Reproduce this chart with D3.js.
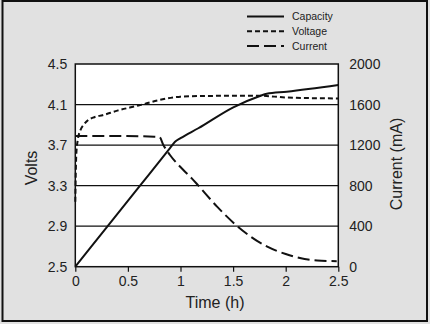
<!DOCTYPE html>
<html>
<head>
<meta charset="utf-8">
<script src="https://cdn.jsdelivr.net/npm/d3@7"></script>
<style>
  html, body { margin: 0; padding: 0; background: #e1e1e1; }
  svg { display: block; font-family: "Liberation Sans", Arial, sans-serif; }
</style>
</head>
<body>
<svg id="chart" width="430" height="324"></svg>
<script>
// Charge profile: time in hours
const capTime = [0, 0.3, 0.6, 0.9, 0.948, 1.0, 1.169, 1.502, 1.755, 1.82, 2.01, 2.5];
const capMah  = [0, 390, 780, 1170, 1233, 1268, 1366, 1573, 1684, 1707, 1727, 1793];

const voltTime = [0, 0.004, 0.01, 0.025, 0.05, 0.08, 0.12, 0.18, 0.26, 0.4, 0.6, 0.8, 1.0, 1.25, 1.75, 2.0, 2.5];
const voltVal  = [3.14, 3.4, 3.62, 3.76, 3.85, 3.9, 3.945, 3.975, 3.995, 4.04, 4.09, 4.145, 4.178, 4.185, 4.187, 4.17, 4.16];

const curTime = [0, 0.4, 0.75, 0.8, 0.837, 0.9, 1.027, 1.107, 1.17, 1.35, 1.54, 1.82, 2.0, 2.135, 2.3, 2.485];
const curMa   = [1290, 1290, 1283, 1280, 1201, 1102, 954, 872, 800, 590, 400, 200, 125, 85, 62, 55];

const timeTicks = [0, 0.5, 1, 1.5, 2, 2.5];
const voltTicks = [2.5, 2.9, 3.3, 3.7, 4.1, 4.5];
const curTicks  = [0, 400, 800, 1200, 1600, 2000];

const legendNames = ["Capacity", "Voltage", "Current"];

const svg = d3.select("#chart");
const L = 75.3, R = 338.3, T = 64, B = 266.7;

const x  = d3.scaleLinear().domain([0, 2.5]).range([L, R]);
const yV = d3.scaleLinear().domain([2.5, 4.5]).range([B, T]);
const yI = d3.scaleLinear().domain([0, 2000]).range([B, T]);

// outer panel
svg.append("rect").attr("x", 2.5).attr("y", 1).attr("width", 424.5).attr("height", 320)
  .attr("fill", "#e1e1e1").attr("stroke", "#111").attr("stroke-width", 2);

// plot area
svg.append("rect").attr("x", L).attr("y", T).attr("width", R - L).attr("height", B - T)
  .attr("fill", "#fff");

// horizontal grid at the inner voltage ticks
svg.append("g").selectAll("line").data(voltTicks.slice(1, -1)).join("line")
  .attr("x1", L).attr("x2", R)
  .attr("y1", d => yV(d)).attr("y2", d => yV(d))
  .attr("stroke", "#111").attr("stroke-width", 1.2);

svg.append("rect").attr("x", L).attr("y", T).attr("width", R - L).attr("height", B - T)
  .attr("fill", "none").attr("stroke", "#111").attr("stroke-width", 1.5);

// axes
const xAxis = d3.axisBottom(x).tickValues(timeTicks).tickFormat(d3.format("")).tickSize(5).tickPadding(4);
const gx = svg.append("g").attr("transform", `translate(0,${B})`).call(xAxis);
gx.select(".domain").remove();

const lAxis = d3.axisLeft(yV).tickValues(voltTicks).tickFormat(d3.format(".1f")).tickSize(0).tickPadding(8);
const gl = svg.append("g").attr("transform", `translate(${L},0)`).call(lAxis);
gl.select(".domain").remove();

const rAxis = d3.axisRight(yI).tickValues(curTicks).tickFormat(d3.format("d")).tickSize(0).tickPadding(11);
const gr = svg.append("g").attr("transform", `translate(${R},0)`).call(rAxis);
gr.select(".domain").remove();

svg.selectAll(".tick text").attr("font-size", 14).attr("fill", "#222")
  .attr("font-family", "Liberation Sans, Arial, sans-serif");
svg.selectAll(".tick line").attr("stroke", "#111").attr("stroke-width", 1.2);

// axis titles
svg.append("text").attr("x", 215).attr("y", 308).attr("text-anchor", "middle")
  .attr("font-size", 16).attr("fill", "#222").text("Time (h)");
svg.append("text").attr("transform", "translate(37,168) rotate(-90)").attr("text-anchor", "middle")
  .attr("font-size", 16).attr("fill", "#222").text("Volts");
svg.append("text").attr("transform", "translate(402,164) rotate(-90)").attr("text-anchor", "middle")
  .attr("font-size", 16).attr("fill", "#222").text("Current (mA)");

// series
const styles = [
  { dash: null },
  { dash: "5,3" },
  { dash: "12,5" }
];

const capLine = d3.line().x(d => x(d[0])).y(d => yI(d[1])).curve(d3.curveMonotoneX);
const voltLine = d3.line().x(d => x(d[0])).y(d => yV(d[1])).curve(d3.curveMonotoneX);
const curLine = d3.line().x(d => x(d[0])).y(d => yI(d[1])).curve(d3.curveMonotoneX);

const plot = svg.append("g");
plot.append("path").attr("d", capLine(d3.zip(capTime, capMah)))
  .attr("fill", "none").attr("stroke", "#111").attr("stroke-width", 2);
plot.append("path").attr("d", voltLine(d3.zip(voltTime, voltVal)))
  .attr("fill", "none").attr("stroke", "#111").attr("stroke-width", 2)
  .attr("stroke-dasharray", styles[1].dash);
plot.append("path").attr("d", curLine(d3.zip(curTime, curMa)))
  .attr("fill", "none").attr("stroke", "#111").attr("stroke-width", 2)
  .attr("stroke-dasharray", styles[2].dash);

// legend
const lg = svg.append("g").selectAll("g").data(legendNames).join("g")
  .attr("transform", (d, i) => `translate(0,${16.5 + i * 14.8})`);
lg.append("line").attr("x1", 247).attr("x2", 284).attr("y1", 0).attr("y2", 0)
  .attr("stroke", "#111").attr("stroke-width", 2)
  .attr("stroke-dasharray", (d, i) => styles[i].dash);
lg.append("text").attr("x", 292).attr("y", 0).attr("dy", "0.35em")
  .attr("font-size", 10.5).attr("fill", "#222").text(d => d);
</script>
</body>
</html>
